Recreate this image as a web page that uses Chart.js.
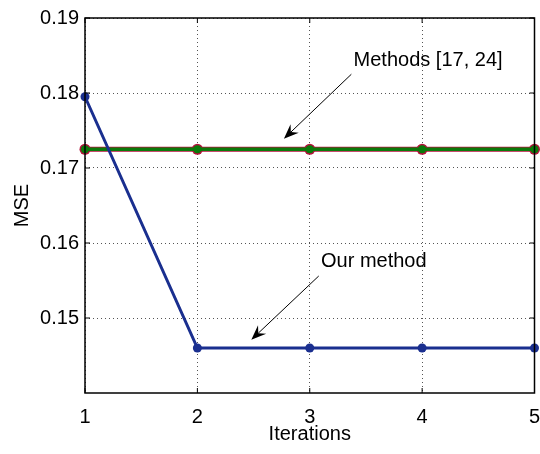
<!DOCTYPE html>
<html>
<head>
<meta charset="utf-8">
<script src="https://cdn.jsdelivr.net/npm/chart.js@4.4.1/dist/chart.umd.min.js"></script>
<style>
  html, body { margin: 0; padding: 0; background: #fff; }
  #wrap { width: 540px; height: 454px; }
</style>
</head>
<body>
<div id="wrap"><canvas id="mseChart" width="540" height="454"></canvas></div>
<script>
const iterations = [1, 2, 3, 4, 5];
const ourMethod = [0.1795, 0.146, 0.146, 0.146, 0.146];
const method17 = [0.1725, 0.1725, 0.1725, 0.1725, 0.1725];
const method24 = [0.1725, 0.1725, 0.1725, 0.1725, 0.1725];
const xTicks = [1, 2, 3, 4, 5];
const yTicks = [0.15, 0.16, 0.17, 0.18, 0.19];

// text label + arrow from (x1,y1) to (x2,y2), all in data units
const notes = [
  { text: 'Methods [17, 24]', tx: 3.39, ty: 0.1843, x1: 3.37, y1: 0.1825, x2: 2.77, y2: 0.1739 },
  { text: 'Our method', tx: 3.10, ty: 0.1575, x1: 3.08, y1: 0.1556, x2: 2.48, y2: 0.1471 }
];

const FONT = 'Liberation Sans, Arial, Helvetica, sans-serif';

const boxPlugin = {
  id: 'box',
  afterDraw(chart) {
    const { ctx, chartArea: a, scales: { x, y } } = chart;
    ctx.save();
    ctx.strokeStyle = '#000';
    ctx.lineWidth = 1.5;
    ctx.strokeRect(a.left, a.top, a.right - a.left, a.bottom - a.top);
    // inward ticks on all four sides
    ctx.lineWidth = 1;
    ctx.beginPath();
    xTicks.forEach(v => {
      const px = x.getPixelForValue(v);
      ctx.moveTo(px, a.bottom); ctx.lineTo(px, a.bottom - 5);
      ctx.moveTo(px, a.top); ctx.lineTo(px, a.top + 5);
    });
    yTicks.forEach(v => {
      const py = y.getPixelForValue(v);
      ctx.moveTo(a.left, py); ctx.lineTo(a.left + 5, py);
      ctx.moveTo(a.right, py); ctx.lineTo(a.right - 5, py);
    });
    ctx.stroke();

    // annotations
    ctx.fillStyle = '#000';
    ctx.font = '20px ' + FONT;
    ctx.textBaseline = 'middle';
    ctx.textAlign = 'left';
    notes.forEach(n => {
      ctx.fillText(n.text, x.getPixelForValue(n.tx), y.getPixelForValue(n.ty));
      const sx = x.getPixelForValue(n.x1), sy = y.getPixelForValue(n.y1);
      const ex = x.getPixelForValue(n.x2), ey = y.getPixelForValue(n.y2);
      const ang = Math.atan2(ey - sy, ex - sx);
      const hl = 16, hw = 0.38;
      ctx.lineWidth = 1;
      ctx.beginPath();
      ctx.moveTo(sx, sy);
      ctx.lineTo(ex - Math.cos(ang) * hl * 0.6, ey - Math.sin(ang) * hl * 0.6);
      ctx.stroke();
      ctx.beginPath();
      ctx.moveTo(ex, ey);
      ctx.lineTo(ex - hl * Math.cos(ang - hw), ey - hl * Math.sin(ang - hw));
      ctx.lineTo(ex - hl * 0.6 * Math.cos(ang), ey - hl * 0.6 * Math.sin(ang));
      ctx.lineTo(ex - hl * Math.cos(ang + hw), ey - hl * Math.sin(ang + hw));
      ctx.closePath();
      ctx.fill();
    });
    ctx.restore();
  }
};

const pts = arr => iterations.map((v, i) => ({ x: v, y: arr[i] }));

new Chart(document.getElementById('mseChart'), {
  type: 'line',
  data: {
    datasets: [
      { label: 'Our method', data: pts(ourMethod), borderColor: '#1a2f8f', backgroundColor: '#1a2f8f',
        borderWidth: 3, pointRadius: 4.5, pointBorderWidth: 0, pointBackgroundColor: '#1a2f8f', clip: 10 },
      { label: 'Method [24]', data: pts(method24), borderColor: '#0a7a0a', backgroundColor: '#0a7a0a',
        borderWidth: 3.5, pointRadius: 4, pointBorderWidth: 0, pointBackgroundColor: '#0a7a0a', clip: 10 },
      { label: 'Method [17]', data: pts(method17), borderColor: '#b5123c', backgroundColor: '#b5123c',
        borderWidth: 5, pointRadius: 5.5, pointBorderWidth: 0, pointBackgroundColor: '#b5123c', clip: 10 }
    ]
  },
  options: {
    responsive: false,
    animation: false,
    layout: { padding: { left: 0, right: 4, top: 15, bottom: 0 } },
    plugins: { legend: { display: false }, tooltip: { enabled: false } },
    elements: { line: { tension: 0 } },
    scales: {
      x: {
        type: 'linear', min: 1, max: 5,
        afterBuildTicks: s => { s.ticks = xTicks.map(v => ({ value: v })); },
        afterFit: s => { s.height = 61; s.paddingLeft = 0; s.paddingRight = 0; },
        grid: { color: '#555', lineWidth: 1, drawTicks: false },
        border: { display: false, dash: [1, 3] },
        ticks: { color: '#000', font: { family: FONT, size: 20 }, padding: 12, maxRotation: 0 },
        title: { display: true, text: 'Iterations', color: '#000', font: { family: FONT, size: 20 }, padding: { top: 0, bottom: 8 } }
      },
      y: {
        type: 'linear', min: 0.14, max: 0.19,
        afterBuildTicks: s => { s.ticks = yTicks.map(v => ({ value: v })); },
        afterFit: s => { s.width = 85; },
        grid: { color: '#555', lineWidth: 1, drawTicks: false },
        border: { display: false, dash: [1, 3] },
        ticks: { color: '#000', font: { family: FONT, size: 20 }, padding: 6, callback: v => v.toFixed(2) },
        title: { display: true, text: 'MSE', color: '#000', font: { family: FONT, size: 20 }, padding: { top: 10, bottom: 0 } }
      }
    }
  },
  plugins: [boxPlugin]
});
</script>
</body>
</html>
